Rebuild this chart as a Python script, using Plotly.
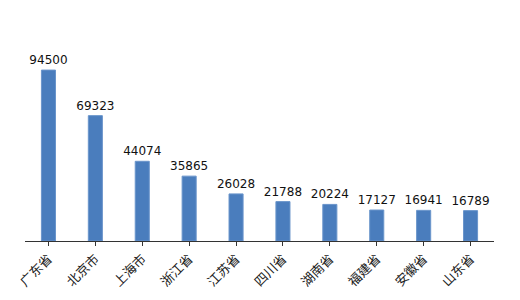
import plotly.graph_objects as go

provinces = ["广东省", "北京市", "上海市", "浙江省", "江苏省", "四川省", "湖南省", "福建省", "安徽省", "山东省"]
values = [94500, 69323, 44074, 35865, 26028, 21788, 20224, 17127, 16941, 16789]

fig = go.Figure(go.Bar(
    x=provinces,
    y=values,
    width=0.3,
    marker=dict(color="#4a7dbd", line=dict(color="#6a95cb", width=1)),
    text=[str(v) for v in values],
    textposition="outside",
    textfont=dict(family="DejaVu Sans", size=12, color="#111111"),
    cliponaxis=False,
))

fig.update_layout(
    width=520, height=300,
    margin=dict(l=25, r=26, t=53, b=59),
    paper_bgcolor="white", plot_bgcolor="white",
    showlegend=False,
    uniformtext=dict(minsize=12, mode="show"),
    xaxis=dict(
        showline=True, linecolor="#333333", linewidth=1,
        ticks="outside", ticklen=4, tickcolor="#333333",
        tickangle=-45, automargin=False,
        tickfont=dict(family="Noto Sans CJK SC", size=13, color="#222222"),
        showgrid=False,
    ),
    yaxis=dict(
        range=[0, 103950], visible=False, showgrid=False, automargin=False,
    ),
)

fig.write_html("out.html")
